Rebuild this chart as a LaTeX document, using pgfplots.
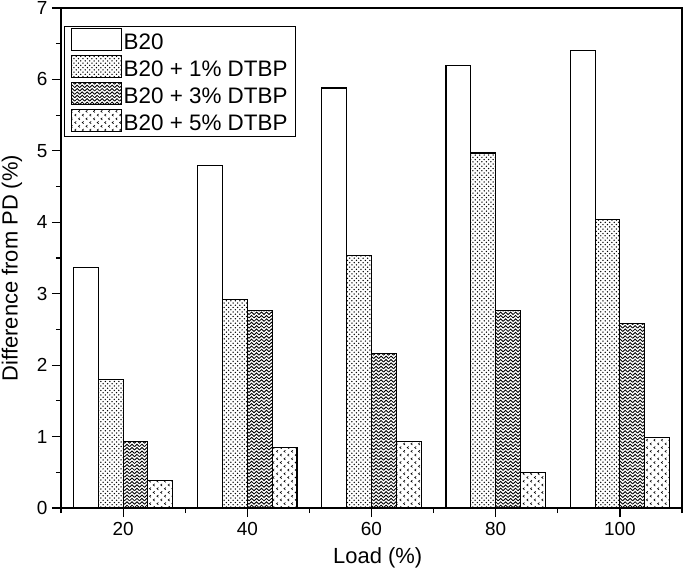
\documentclass[border=0pt]{standalone}
\usepackage{fontspec}
\setmainfont{Liberation Sans}
\usepackage{pgfplots}
\pgfplotsset{compat=1.18}
\usetikzlibrary{patterns}

\pgfdeclarepatternformonly{mydots}{\pgfqpoint{-1pt}{-1pt}}{\pgfqpoint{3.5pt}{3.5pt}}{\pgfqpoint{4.5pt}{4.5pt}}{%
  \pgfpathcircle{\pgfqpoint{0pt}{0pt}}{0.75pt}%
  \pgfpathcircle{\pgfqpoint{2.25pt}{2.25pt}}{0.75pt}%
  \pgfusepath{fill}}
\pgfdeclarepatternformonly{myzigzag}{\pgfqpoint{-0.5pt}{-0.5pt}}{\pgfqpoint{5.5pt}{3.5pt}}{\pgfqpoint{5pt}{3.4pt}}{%
  \pgfsetlinewidth{0.85pt}%
  \pgfpathmoveto{\pgfqpoint{0pt}{0pt}}%
  \pgfpathlineto{\pgfqpoint{2.5pt}{2.5pt}}%
  \pgfpathlineto{\pgfqpoint{5pt}{0pt}}%
  \pgfusepath{stroke}}
\pgfdeclarepatternformonly{mychevron}{\pgfqpoint{-0.5pt}{-0.5pt}}{\pgfqpoint{7.5pt}{7.5pt}}{\pgfqpoint{7.5pt}{7.5pt}}{%
  \pgfsetlinewidth{0.6pt}%
  \pgfpathmoveto{\pgfqpoint{1.5pt}{0pt}}%
  \pgfpathlineto{\pgfqpoint{0pt}{1.1pt}}%
  \pgfpathlineto{\pgfqpoint{1.5pt}{2.2pt}}%
  \pgfpathmoveto{\pgfqpoint{5.25pt}{3.75pt}}%
  \pgfpathlineto{\pgfqpoint{3.75pt}{4.85pt}}%
  \pgfpathlineto{\pgfqpoint{5.25pt}{5.95pt}}%
  \pgfusepath{stroke}}

\pgfplotstableread{
load b20 p1 p3 p5
20  3.37 1.80 0.93 0.38
40  4.80 2.92 2.77 0.85
60  5.88 3.53 2.16 0.93
80  6.20 4.97 2.77 0.50
100 6.40 4.04 2.58 0.99
}\datatable

\begin{document}
\begin{tikzpicture}
\begin{axis}[
  scale only axis,
  width=621bp, height=500bp,
  xmin=10, xmax=110, ymin=0, ymax=7,
  ybar=0pt, bar width=24.84bp,
  xtick={20,40,60,80,100},
  minor xtick={10,30,50,70,90,110},
  ytick={0,1,2,3,4,5,6,7},
  minor ytick={0.5,1.5,2.5,3.5,4.5,5.5,6.5},
  tick align=outside,
  xtick pos=left, ytick pos=left,
  major tick length=9bp, minor tick length=5bp,
  every tick/.style={black, line width=1.2pt},
  axis line style={line width=1.4pt},
  /pgf/number format/assume math mode=true,
  tick label style={font=\fontsize{19}{22}\selectfont},
  xticklabel style={yshift=-2bp},
  yticklabel style={xshift=-1bp},
  label style={font=\fontsize{22}{25}\selectfont},
  xlabel={Load (\%)},
  ylabel={Difference from PD (\%)},
  xlabel style={at={(axis description cs:0.51,-0.1)}, anchor=center},
  ylabel style={at={(axis description cs:-0.079,0.48)}, anchor=center},
  legend style={at={(rel axis cs:0.005,0.965)}, anchor=north west,
    draw=black, line width=1.2pt, font=\fontsize{22.5}{25}\selectfont,
    inner xsep=6bp, inner ysep=2bp, row sep=2bp, cells={anchor=west}},
  legend image code/.code={\draw[#1, line width=1pt] (0bp,-8bp) rectangle (50bp,14bp);},
  every axis plot/.append style={draw=black, line width=1.1pt},
]
\addplot[fill=white] table[x=load,y=b20] {\datatable};
\addplot[fill=white, postaction={pattern=mydots}] table[x=load,y=p1] {\datatable};
\addplot[fill=white, postaction={pattern=myzigzag}] table[x=load,y=p3] {\datatable};
\addplot[fill=white, postaction={pattern=mychevron}] table[x=load,y=p5] {\datatable};
\legend{B20, B20 + 1\% DTBP, B20 + 3\% DTBP, B20 + 5\% DTBP}
\end{axis}
\pgfresetboundingbox
\path (-61bp,-64bp) rectangle (624bp,508bp);
\end{tikzpicture}
\end{document}
